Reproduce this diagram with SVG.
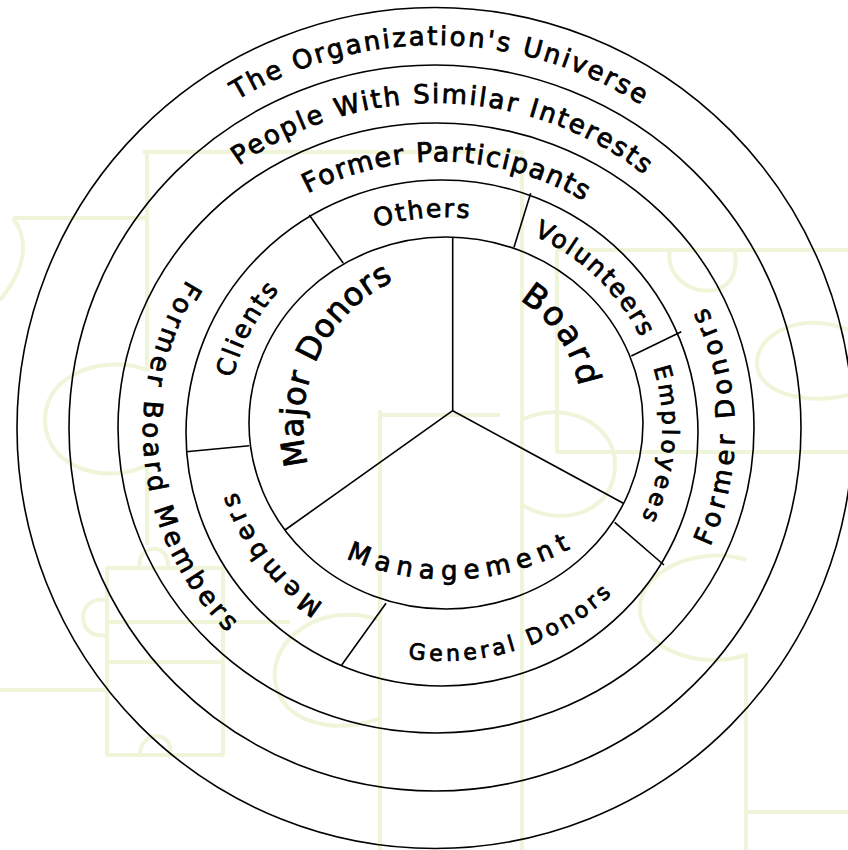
<svg xmlns="http://www.w3.org/2000/svg" xmlns:xlink="http://www.w3.org/1999/xlink" width="848" height="850" viewBox="0 0 848 850">
<style>
.bg{fill:none;stroke:#eff5d8;stroke-width:4;stroke-linejoin:round}
.ring{fill:none;stroke:#000;stroke-width:1.6}
.ln{fill:none;stroke:#000;stroke-width:1.6}
.lbl{font-family:"DejaVu Sans","Liberation Sans",sans-serif;fill:#000;stroke:#000;stroke-width:0.8;dominant-baseline:central;text-anchor:middle}
</style>
<defs>
<path id="pUniverse" d="M172.0 136.7 A393 392 0 0 1 705.0 143.2"/>
<path id="pPeople" d="M180.2 205.8 A342 334 0 0 1 700.9 217.3"/>
<path id="pFormerPart" d="M256.8 214.9 A287 279.3 0 0 1 633.3 225.1"/>
<path id="pFormerBoard" d="M220.3 249.9 A287 279.3 0 0 0 266.5 653.9"/>
<path id="pFormerDonors" d="M683.4 577.1 A287 279.3 0 0 0 678.9 277.4"/>
<path id="pOthers" d="M342.2 231.5 A226.5 220 0 0 1 503.0 215.6"/>
<path id="pVolunteers" d="M506.4 216.5 A226.5 220 0 0 1 660.6 363.7"/>
<path id="pEmployees" d="M650.1 336.8 A226.5 220 0 0 1 633.7 548.1"/>
<path id="pGeneral" d="M366.0 639.8 A231.5 225 0 0 0 635.2 554.8"/>
<path id="pMembers" d="M347.6 627.1 A226.5 220 0 0 1 220.3 462.4"/>
<path id="pClients" d="M218.7 405.8 A226.5 220 0 0 1 294.2 263.0"/>
<path id="pManagement" d="M311.2 529.0 A248 248 0 0 0 602.4 516.8"/>
<path id="pBoard" d="M511.6 282.2 A141 141 0 0 1 592.7 400.2"/>
<path id="pMajor" d="M306.8 494.5 A171 171 0 0 1 415.9 260.6"/>
</defs>
<rect width="848" height="850" fill="#fff"/>
<g id="background">
<path class="bg" d="M143 152 H522 V850"/>
<path class="bg" d="M147 152 V370 C110 355 45 370 45 420 C45 470 110 485 147 465 V545"/>
<path class="bg" d="M13 218 H147 M13 218 C30 240 25 270 0 300"/>
<path class="bg" d="M107 568 H223 V755 H107 Z M107 622 H290 M107 662 H223 M0 690 H107"/>
<path class="bg" d="M107 600 C75 595 75 640 107 635 M140 755 C140 730 175 730 170 755 M140 568 C135 545 170 540 168 568"/>
<path class="bg" d="M380 410 V850 M380 415 H500"/>
<path class="bg" d="M380 620 C320 600 270 640 275 680 C280 725 340 735 380 718"/>
<path class="bg" d="M557 250 H848 M557 250 V452 H848"/>
<path class="bg" d="M670 250 C665 275 690 295 715 290 C735 285 738 265 734 250"/>
<path class="bg" d="M848 330 C800 310 755 335 757 365 C760 395 810 405 848 395"/>
<path class="bg" d="M522 420 C560 400 615 420 615 465 C615 510 565 530 522 505"/>
<path class="bg" d="M746 560 C700 545 640 570 640 608 C640 650 700 670 746 655 V850 M746 812 H848"/>
</g>
<g id="rings">
<ellipse class="ring" cx="435" cy="428" rx="418" ry="420.5"/>
<ellipse class="ring" cx="435" cy="428" rx="366" ry="363"/>
<ellipse class="ring" cx="436" cy="428" rx="318" ry="305"/>
<ellipse class="ring" cx="442" cy="433" rx="256" ry="253"/>
<ellipse class="ring" cx="446" cy="423" rx="197" ry="186"/>
</g>
<g id="connectors">
<path class="ln" d="M452.7 410.7 V236.7 M452.7 410.7 L285 530 M452.7 410.7 L623.3 503.3"/>
<path class="ln" d="M309.3 215 L343.3 263.3 M530.7 193.3 L514 247.3 M681.3 331.7 L631.3 356 M614.7 522.3 L664 565 M386 603.3 L341.7 665 M249.3 445.7 L186 451.7"/>
</g>
<g id="node-universe"><text class="lbl" font-size="26"><textPath xlink:href="#pUniverse" href="#pUniverse" startOffset="50%" textLength="435" lengthAdjust="spacing">The Organization's Universe</textPath></text></g>
<g id="node-people"><text class="lbl" font-size="26"><textPath xlink:href="#pPeople" href="#pPeople" startOffset="50%" textLength="445" lengthAdjust="spacing">People With Similar Interests</textPath></text></g>
<g id="node-former-participants"><text class="lbl" font-size="27"><textPath xlink:href="#pFormerPart" href="#pFormerPart" startOffset="50%" textLength="298" lengthAdjust="spacing">Former Participants</textPath></text></g>
<g id="node-former-board"><text class="lbl" font-size="26"><textPath xlink:href="#pFormerBoard" href="#pFormerBoard" startOffset="50%" textLength="372" lengthAdjust="spacing">Former Board Members</textPath></text></g>
<g id="node-former-donors"><text class="lbl" font-size="26"><textPath xlink:href="#pFormerDonors" href="#pFormerDonors" startOffset="50%" textLength="240" lengthAdjust="spacing">Former Donors</textPath></text></g>
<g id="node-others"><text class="lbl" font-size="25"><textPath xlink:href="#pOthers" href="#pOthers" startOffset="50%" textLength="97" lengthAdjust="spacing">Others</textPath></text></g>
<g id="node-volunteers"><text class="lbl" font-size="25"><textPath xlink:href="#pVolunteers" href="#pVolunteers" startOffset="50%" textLength="156" lengthAdjust="spacing">Volunteers</textPath></text></g>
<g id="node-employees"><text class="lbl" font-size="23"><textPath xlink:href="#pEmployees" href="#pEmployees" startOffset="50%" textLength="160" lengthAdjust="spacing">Employees</textPath></text></g>
<g id="node-general-donors"><text class="lbl" font-size="22"><textPath xlink:href="#pGeneral" href="#pGeneral" startOffset="50%" textLength="214" lengthAdjust="spacing">General Donors</textPath></text></g>
<g id="node-members"><text class="lbl" font-size="25"><textPath xlink:href="#pMembers" href="#pMembers" startOffset="50%" textLength="150" lengthAdjust="spacing">Members</textPath></text></g>
<g id="node-clients"><text class="lbl" font-size="25"><textPath xlink:href="#pClients" href="#pClients" startOffset="50%" textLength="104" lengthAdjust="spacing">Clients</textPath></text></g>
<g id="node-management"><text class="lbl" font-size="26"><textPath xlink:href="#pManagement" href="#pManagement" startOffset="50%" textLength="225" lengthAdjust="spacing">Management</textPath></text></g>
<g id="node-board"><text class="lbl" font-size="33"><textPath xlink:href="#pBoard" href="#pBoard" startOffset="50%" textLength="116" lengthAdjust="spacing">Board</textPath></text></g>
<g id="node-major-donors"><text class="lbl" font-size="32"><textPath xlink:href="#pMajor" href="#pMajor" startOffset="50%" textLength="233" lengthAdjust="spacing">Major Donors</textPath></text></g>
</svg>
